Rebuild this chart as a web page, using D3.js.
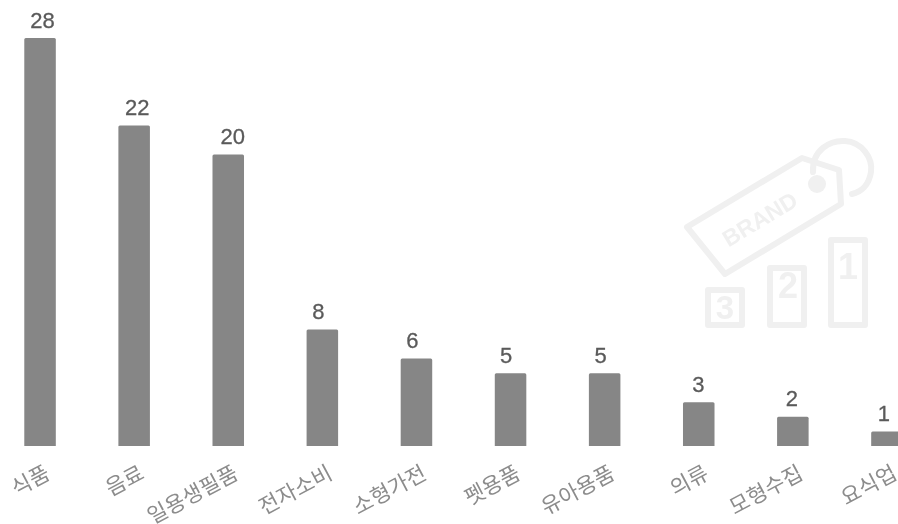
<!DOCTYPE html>
<html><head><meta charset="utf-8">
<script src="https://cdn.jsdelivr.net/npm/d3@7"></script>
<style>html,body{margin:0;padding:0;background:#fff;overflow:hidden}svg{display:block;filter:blur(.5px)}</style>
</head><body><svg id="c" width="898" height="524"></svg>
<script>
const categories=["식품","음료","일용생필품","전자소비","소형가전","펫용품","유아용품","의류","모형수집","요식업"];
const values=[28,22,20,8,6,5,5,3,2,1];
const labelNudge=[2.5,3,4.5,-4,-4,-4.5,-4,-0.5,-1,-3];
const svg=d3.select("#c");
const font="'Liberation Sans','Noto Sans CJK KR',sans-serif";
const wmc="#f0f0f0";
const wm=svg.append("g").attr("fill","none").attr("stroke",wmc).attr("stroke-width",6).attr("stroke-linejoin","round").attr("stroke-linecap","round");
wm.append("path").attr("d","M687 227L802 158L839 170L841 204L725 274Z");
wm.append("path").attr("d","M813 172C812 150 830 140 845 141C862 142 873 158 871 172C869 185 861 192 852 194");
wm.append("circle").attr("cx",817).attr("cy",184).attr("r",9).attr("fill",wmc).attr("stroke","none");
[[708,290,34,35],[770,268,34,57],[831,240,34,85]].forEach(b=>wm.append("rect").attr("x",b[0]).attr("y",b[1]).attr("width",b[2]).attr("height",b[3]));
const wt=svg.append("g").attr("fill",wmc).attr("font-family",font).attr("text-anchor","middle");
wt.append("text").attr("transform","translate(764,226) rotate(-31)").attr("font-size",23).attr("font-weight",700).text("BRAND");
[["3",725,319,33],["2",788,298,36],["1",848,279,36]].forEach(t=>wt.append("text").attr("x",t[1]).attr("y",t[2]).attr("font-size",t[3]).attr("font-weight",700).text(t[0]));
const x=d3.scaleBand().domain(categories).range([-7,934]).paddingInner(.665).paddingOuter(.3325);
const y=d3.scaleLinear().domain([0,28]).range([446,38]);
svg.append("g").selectAll("path").data(categories).join("path")
 .attr("fill","#868686")
 .attr("d",(c,i)=>{const a=x(c),w=x.bandwidth(),t=y(values[i]),b=y(0),r=1.5;
   return `M${a} ${b}V${t+r}Q${a} ${t} ${a+r} ${t}H${a+w-r}Q${a+w} ${t} ${a+w} ${t+r}V${b}Z`;});
svg.append("g").selectAll("text").data(categories).join("text")
 .attr("x",(c,i)=>x(c)+x.bandwidth()/2+labelNudge[i]).attr("y",(c,i)=>y(values[i])-10.5)
 .attr("text-anchor","middle").attr("font-family",font).attr("font-size",22).attr("fill","#5a5a5a")
 .attr("stroke","#5a5a5a").attr("stroke-width",.3)
 .text((c,i)=>values[i]);
svg.append("g").selectAll("text").data(categories).join("text")
 .attr("transform",(c,i)=>`translate(${x(c)+x.bandwidth()/2+11.5},478) rotate(-28)`)
 .attr("text-anchor","end").attr("font-family","'Noto Sans CJK KR',sans-serif").attr("font-size",21.5).attr("fill","#8c8c8c")
 .text(c=>c);
</script></body></html>
